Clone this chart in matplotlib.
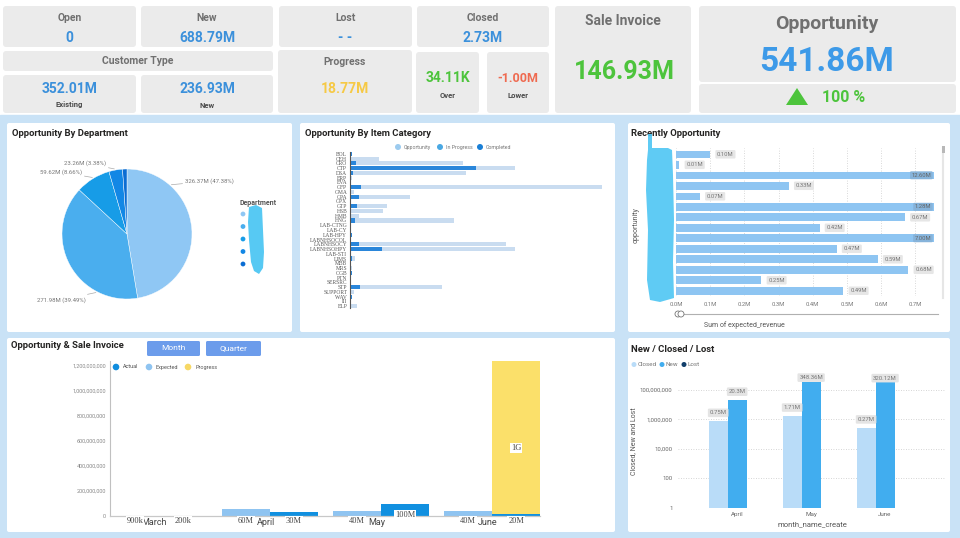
import matplotlib
matplotlib.use("Agg")
import matplotlib.pyplot as plt
from matplotlib.patches import FancyBboxPatch, Rectangle, Polygon, Circle
from matplotlib.ticker import FuncFormatter, FixedLocator
import numpy as np

plt.rcParams['font.family'] = ['Roboto', 'DejaVu Sans']

# ---------------- data ----------------
kpi_titles = ['Open', 'New', 'Lost', 'Closed']
kpi_values = ['0', '688.79M', '- -', '2.73M']
cust_values = ['352.01M', '236.93M']
cust_labels = ['Existing', 'New']
progress_value = '18.77M'
over_value, lower_value = '34.11K', '-1.00M'
sale_invoice_value = '146.93M'
opportunity_value = '541.86M'
opportunity_change = '100 %'

dept_values = [326.37, 271.98, 59.62, 23.26, 7.56]
dept_colors = ['#8fc7f4', '#4aaeee', '#179ce7', '#1287e5', '#0b6dd3']

item_cats = ['BOL', 'CEH', 'CRO', 'CTP', 'DSA', 'ERP', 'EVA', 'GFP', 'GMA', 'GPA', 'GPX',
             'GTP', 'HSB', 'HMB', 'HNG', 'LAB-CTNG', 'LAB-CY', 'LAB-HPY', 'LABNHSOCOL',
             'LABNHSOCY', 'LABNHSOHPY', 'LAB-STI', 'LIMS', 'MBB', 'MRS', 'OGB', 'PTN',
             'SERSRC', 'STP', 'SUPPORT', 'WAV', 'III', 'ELP']
item_opportunity = [0.6, 8.8, 34.0, 49.4, 34.7, 0.6, 0, 75.5, 1.1, 17.9, 0, 11.0, 9.9, 2.6,
                    31.1, 0, 0, 0.5, 0, 46.7, 49.4, 0, 1.6, 0, 0.7, 0.6, 0, 0, 27.5, 1.3,
                    0.6, 0, 2.0]
item_completed = [0.6, 0, 1.7, 37.8, 1.0, 0, 0, 3.3, 0, 2.8, 0, 2.1, 0.4, 0, 1.6, 0, 0,
                  0.5, 0, 2.7, 9.7, 0, 0.7, 0, 0, 0.6, 0, 0, 2.9, 0.3, 0.6, 0, 0]

recent_values = [0.10, 0.01, 12.60, 0.33, 0.07, 1.28, 0.67, 0.42, 7.00, 0.47, 0.59, 0.68,
                 0.25, 0.49]
recent_ticks = [0.0, 0.1, 0.2, 0.3, 0.4, 0.5, 0.6, 0.7]

months = ['March', 'April', 'May', 'June']
inv_expected = [0.9e6, 60e6, 40e6, 40e6]
inv_actual = [0.2e6, 30e6, 100e6, 20e6]
inv_progress = [0, 0, 0, 1.22e9]
inv_expected_lbl = ['900k', '60M', '40M', '40M']
inv_actual_lbl = ['200k', '30M', '100M', '20M']
inv_progress_lbl = ['', '', '', '1G']
inv_yticks = [0, 200e6, 400e6, 600e6, 800e6, 1000e6, 1200e6]

ncl_months = ['April', 'May', 'June']
ncl_closed = [0.75e6, 1.71e6, 0.27e6]
ncl_new = [20.3e6, 348.36e6, 320.12e6]
ncl_lost = [0, 0, 0]
ncl_yticks = [1, 100, 10000, 1000000, 100000000]

# ---------------- figure ----------------
W, H = 960, 538
fig = plt.figure(figsize=(9.6, 5.38), dpi=100)


def ax_px(x0, y0, x1, y1, **kw):
    return fig.add_axes([x0 / W, 1 - y1 / H, (x1 - x0) / W, (y1 - y0) / H], **kw)


bg = ax_px(0, 0, W, H)
bg.set_xlim(0, W)
bg.set_ylim(H, 0)
bg.axis('off')

BLUE_BG = '#c9e2f6'
CARD = '#ebebeb'
bg.add_patch(Rectangle((0, 115), W, H - 115, color=BLUE_BG, zorder=0))


def card(x0, y0, x1, y1, color=CARD, r=3):
    bg.add_patch(FancyBboxPatch((x0, y0), x1 - x0, y1 - y0,
                                boxstyle=f"round,pad=0,rounding_size={r}",
                                fc=color, ec='none', zorder=1))


def t(x, y, s, size, color='#6f6f6f', weight='normal', ha='center', va='center', **kw):
    bg.text(x, y, s, fontsize=size, color=color, fontweight=weight, ha=ha, va=va,
            zorder=5, **kw)


TITLE_GRAY = '#707070'
VAL_BLUE = '#3b90db'
GREEN = '#4dc43c'

# top cards
cards_x = [(3, 136), (141, 273), (279, 412), (417, 549)]
for (x0, x1), ttl, val in zip(cards_x, kpi_titles, kpi_values):
    card(x0, 6, x1, 47)
    cx = (x0 + x1) / 2
    t(cx, 18, ttl, 7.5, TITLE_GRAY, 'bold')
    t(cx, 37.5, val, 10, VAL_BLUE, 'bold')

card(3, 51, 273, 71)
t(138, 60.5, 'Customer Type', 7.5, TITLE_GRAY, 'bold')
for (x0, x1), val, lab in zip([(3, 136), (141, 273)], cust_values, cust_labels):
    card(x0, 75, x1, 113)
    cx = (x0 + x1) / 2
    t(cx, 89, val, 10, VAL_BLUE, 'bold')
    t(cx, 105, lab, 5.5, '#4a4a4a', 'bold')

card(278, 50, 412, 113)
t(345, 62, 'Progress', 7.5, TITLE_GRAY, 'bold')
t(345, 89, progress_value, 10, '#f6c945', 'bold')

card(416, 52, 479, 113)
t(448, 78, over_value, 10, GREEN, 'bold')
t(448, 95.5, 'Over', 5.5, '#4a4a4a', 'bold')
card(487, 52, 549, 113)
t(518, 79, lower_value, 9, '#ef6a50', 'bold')
t(518, 95.5, 'Lower', 5.5, '#4a4a4a', 'bold')

card(555, 6, 691, 113)
t(623, 21, 'Sale Invoice', 10, TITLE_GRAY, 'bold')
t(624, 72, sale_invoice_value, 18, GREEN, 'bold')

card(699, 6, 956, 82)
t(827, 24, 'Opportunity', 14, TITLE_GRAY, 'bold')
t(827, 62, opportunity_value, 24, '#3d9ae8', 'bold')
card(699, 84, 956, 113)
bg.add_patch(Polygon([(786, 105), (808, 105), (797, 88)], closed=True, fc=GREEN, ec='none',
                     zorder=5))
t(844, 97.5, opportunity_change, 11.5, GREEN, 'bold')

# panels
for (x0, y0, x1, y1) in [(7, 123, 292, 332), (300, 123, 615, 332), (628, 123, 950, 332),
                         (7, 338, 615, 532), (628, 338, 950, 532)]:
    card(x0, y0, x1, y1, color='white', r=2)

PT = '#252423'
t(12, 134, 'Opportunity By Department', 6.8, PT, 'bold', ha='left')
t(305, 134, 'Opportunity By Item Category', 6.8, PT, 'bold', ha='left')
t(631, 134, 'Recently Opportunity', 6.8, PT, 'bold', ha='left')
t(11, 345, 'Opportunity & Sale Invoice', 6.8, PT, 'bold', ha='left')
t(631, 350, 'New / Closed / Lost', 6.8, PT, 'bold', ha='left')

# ---------------- pie ----------------
pcx, pcy, pr = 127, 234, 65
axp = ax_px(pcx - pr, pcy - pr, pcx + pr, pcy + pr)
wedges, _ = axp.pie(dept_values, colors=dept_colors, startangle=90, counterclock=False,
                    wedgeprops=dict(linewidth=0.3, edgecolor='white'))
axp.set_xlim(-1, 1)
axp.set_ylim(-1, 1)
axp.set_facecolor('none')
for w in wedges:
    w.set_clip_on(False)
total = sum(dept_values)
lbl_edge_angles = [48, 242, 121.5, 101]
lbl_text_px = [(184, 181, 'left'), (87, 300, 'right'), (83, 172, 'right'), (107, 163, 'right')]
for v, ang, (tx, ty, ha) in zip(dept_values, lbl_edge_angles, lbl_text_px):
    ex, ey = np.cos(np.radians(ang)), np.sin(np.radians(ang))
    dx, dy = (tx - pcx) / pr, (pcy - ty) / pr
    axp.annotate(f"{v:.2f}M ({v / total * 100:.2f}%)", xy=(ex * 1.02, ey * 1.02),
                 xytext=(dx + (0.02 if ha == 'left' else -0.02), dy), ha=ha, va='center',
                 fontsize=4.3, color='#777777', annotation_clip=False,
                 arrowprops=dict(arrowstyle='-', color='#aaaaaa', lw=0.5,
                                 shrinkA=0, shrinkB=0))
t(240, 203, 'Department', 5, '#555555', 'bold', ha='left')
for i, c in enumerate(dept_colors):
    bg.add_patch(Circle((243, 214 + i * 12.5), 2.4, fc=c, ec='none', zorder=5))

# ---------------- item category ----------------
axi = ax_px(350, 151.6, 610, 308.4)
yi = np.arange(len(item_cats))
axi.barh(yi, item_opportunity, height=0.85, color='#c9dcf0')
axi.barh(yi, item_completed, height=0.85, color='#2a86da')
axi.set_ylim(len(item_cats) - 0.5, -0.5)
axi.set_xlim(0, 78)
axi.set_yticks(yi)
axi.set_yticklabels(item_cats, fontsize=4.0, family='Liberation Serif', color='#555555')
axi.tick_params(axis='y', length=0, pad=2)
axi.set_xticks([])
for s in ['top', 'right', 'bottom']:
    axi.spines[s].set_visible(False)
axi.spines['left'].set_color('#555555')
axi.spines['left'].set_linewidth(0.8)
axi.set_facecolor('none')
for cx, lab, c in [(398, 'Opportunity', '#9ccbef'), (440, 'In Progress', '#4aa8e3'),
                   (480, 'Completed', '#1a7fd6')]:
    bg.add_patch(Circle((cx, 147), 3, fc=c, ec='none', zorder=5))
    t(cx + 6, 147, lab, 3.8, '#777777', ha='left')

# ---------------- recently opportunity ----------------
axr = ax_px(676, 148, 934, 296)
yr = np.arange(len(recent_values))
xmax = 0.755
axr.barh(yr, recent_values, height=0.72, color='#8ec5f2', zorder=2)
axr.set_xlim(0, xmax)
axr.set_ylim(len(recent_values) - 0.5, -0.6)
axr.set_xticks(recent_ticks)
axr.xaxis.set_major_formatter(FuncFormatter(lambda v, p: f"{v:.1f}M"))
axr.tick_params(axis='x', length=0, labelsize=4.2, labelcolor='#777777', pad=4)
axr.set_yticks([])
axr.grid(axis='x', linestyle=(0, (1, 2)), color='#cccccc', lw=0.6, zorder=0)
for s in axr.spines.values():
    s.set_visible(False)
axr.set_facecolor('none')
for y, v in zip(yr, recent_values):
    if v > xmax:
        axr.annotate(f"{v:.2f}M", xy=(xmax, y), xytext=(-2, 0), textcoords='offset points',
                     ha='right', va='center', fontsize=4.2, color='#666666',
                     bbox=dict(boxstyle='round,pad=0.25,rounding_size=0.2', fc='#86b3da',
                               ec='none'))
    else:
        axr.annotate(f"{v:.2f}M", xy=(v, y), xytext=(5, 0), textcoords='offset points',
                     ha='left', va='center', fontsize=4.2, color='#777777',
                     bbox=dict(boxstyle='round,pad=0.3,rounding_size=0.2', fc='#e6e6e6',
                               ec='none'))
t(636, 225, 'opportunity', 5, '#555555', rotation=90)
t(744, 325.5, 'Sum of expected_revenue', 5, '#555555')
bg.plot([676, 938], [314, 314], color='#b0b0b0', lw=0.8, zorder=4)
bg.add_patch(Circle((678, 314), 3, fc='white', ec='#777777', lw=0.6, zorder=5))
bg.add_patch(Circle((681, 314), 3, fc='white', ec='#777777', lw=0.6, zorder=5))
bg.plot([943, 943], [148, 298], color='#e6e6e6', lw=1.5, zorder=4)
bg.add_patch(Rectangle((941.5, 146), 3, 7, fc='#b8b8b8', ec='none', zorder=5))

# ---------------- opportunity & sale invoice ----------------
for x0, x1, lab in [(147, 200, 'Month'), (206, 261, 'Quarter')]:
    bg.add_patch(FancyBboxPatch((x0, 341), x1 - x0, 15, boxstyle="round,pad=0,rounding_size=1.5",
                                fc='#6c9ceb', ec='none', zorder=5))
    t((x0 + x1) / 2, 348.5, lab, 6, 'white')

axs = ax_px(110, 361, 540, 516)
xs = np.arange(len(months))
bw = 0.432
axs.bar(xs - bw / 2, inv_expected, width=bw, color='#8fc4f1', zorder=2)
axs.bar(xs + bw / 2, inv_actual, width=bw, color='#1190e0', zorder=2)
axs.bar(xs + bw / 2, inv_progress, width=bw, bottom=inv_actual, color='#fbe06a', zorder=2)
axs.set_xlim(-0.44, 3.43)
axs.set_ylim(0, 1.24e9)
axs.set_yticks(inv_yticks)
axs.yaxis.set_major_formatter(FuncFormatter(lambda v, p: f"{int(v):,}"))
axs.tick_params(axis='y', length=0, labelsize=4.0, labelcolor='#888888', pad=3)
axs.set_xticks(xs - 0.04)
axs.set_xticklabels(months, fontsize=6.5, color='#444444')
axs.tick_params(axis='x', length=0, pad=1.5)
for s in ['top', 'right']:
    axs.spines[s].set_visible(False)
axs.spines['left'].set_color('#c0c0c0')
axs.spines['bottom'].set_color('#c8c8c8')
axs.spines['left'].set_linewidth(0.8)
axs.spines['bottom'].set_linewidth(0.9)
axs.set_facecolor('none')
lblkw = dict(fontsize=6, family='Liberation Serif', color='#444444', ha='center',
             annotation_clip=False, zorder=6,
             bbox=dict(boxstyle='square,pad=0.1', fc='white', ec='none'))
for x, lab in zip(xs, inv_expected_lbl):
    axs.annotate(lab, xy=(x - bw / 2, 0), xytext=(0, -3.5), textcoords='offset points',
                 va='center', **lblkw)
for x, lab in zip(xs, inv_actual_lbl):
    axs.annotate(lab, xy=(x + bw / 2, 0), xytext=(0, -3.5 if lab != '100M' else 1),
                 textcoords='offset points', va='center', **lblkw)
for x, a, p, lab in zip(xs, inv_actual, inv_progress, inv_progress_lbl):
    if lab:
        axs.annotate(lab, xy=(x + bw / 2, a + p * 0.43), va='center', **lblkw)
for cx, lab, c in [(116, 'Actual', '#118dde'), (149, 'Expected', '#8fc4f1'),
                   (188, 'Progress', '#f7d865')]:
    bg.add_patch(Circle((cx, 367), 3.3, fc=c, ec='none', zorder=5))
    t(cx + 7, 367, lab, 4, '#555555', ha='left')

# ---------------- new / closed / lost ----------------
axn = ax_px(678, 375, 945, 508)
xn = np.arange(len(ncl_months))
nbw = 0.257
axn.set_yscale('log')
axn.bar(xn - nbw, np.array(ncl_closed) - 1, bottom=1, width=nbw, color='#b9dcf8', zorder=2)
axn.bar(xn, np.array(ncl_new) - 1, bottom=1, width=nbw, color='#41adef', zorder=2)
axn.set_ylim(1, 1e9)
axn.set_xlim(-0.8, 2.81)
axn.yaxis.set_major_locator(FixedLocator(ncl_yticks))
axn.yaxis.set_minor_locator(FixedLocator([]))
axn.yaxis.set_major_formatter(FuncFormatter(lambda v, p: f"{int(round(v)):,}"))
axn.tick_params(axis='y', length=0, labelsize=4.3, labelcolor='#666666', pad=4)
axn.set_xticks(xn)
axn.set_xticklabels(ncl_months)
axn.tick_params(axis='x', length=0, labelsize=4.5, labelcolor='#666666', pad=3)
axn.grid(axis='y', linestyle=(0, (1, 2)), color='#c8c8c8', lw=0.6, zorder=0)
for s in axn.spines.values():
    s.set_visible(False)
axn.set_facecolor('none')


def mfmt(v):
    return f"{v / 1e6:.2f}".rstrip('0').rstrip('.') + 'M'


for x, v in zip(xn - nbw, ncl_closed):
    axn.annotate(mfmt(v), xy=(x, v), xytext=(0, 6), textcoords='offset points',
                 ha='center', va='center', fontsize=4.3, color='#777777',
                 bbox=dict(boxstyle='round,pad=0.3,rounding_size=0.2', fc='#e4e4e4', ec='none'))
for x, v in zip(xn, ncl_new):
    off = 6 if v < 1e8 else 3
    axn.annotate(mfmt(v), xy=(x, v), xytext=(0, off), textcoords='offset points',
                 ha='center', va='center', fontsize=4.3, color='#777777',
                 annotation_clip=False,
                 bbox=dict(boxstyle='round,pad=0.3,rounding_size=0.2', fc='#e4e4e4', ec='none'))
t(812, 524, 'month_name_create', 5.5, '#555555')
t(634, 441, 'Closed, New and Lost', 5, '#555555', rotation=90)
for cx, lab, c in [(634, 'Closed', '#b9dcf8'), (662, 'New', '#41adef'), (684, 'Lost', '#123f6b')]:
    bg.add_patch(Circle((cx, 364.5), 2.5, fc=c, ec='none', zorder=5))
    t(cx + 3.5, 364.5, lab, 4.5, '#777777', ha='left')

# ---------------- overlay scribbles ----------------
ov = ax_px(0, 0, W, H, zorder=20)
ov.set_xlim(0, W)
ov.set_ylim(H, 0)
ov.axis('off')
ov.set_facecolor('none')
CY = '#4ec6f3'
ov.add_patch(Polygon([(249, 207), (256, 205), (262, 208), (263, 230), (264, 252), (263, 268),
                      (259, 274), (254, 271), (251, 262), (249, 240), (248, 222)],
                     closed=True, fc=CY, ec='none', alpha=0.95))
ov.add_patch(Polygon([(648, 134), (652, 134), (652, 148), (668, 148), (672, 150), (673, 175),
                      (674, 220), (673, 262), (674, 298), (660, 302), (650, 300), (647, 280),
                      (648, 230), (646, 190), (647, 160), (648, 150)],
                     closed=True, fc=CY, ec='none', alpha=0.9))

fig.savefig('out.png', dpi=100)
